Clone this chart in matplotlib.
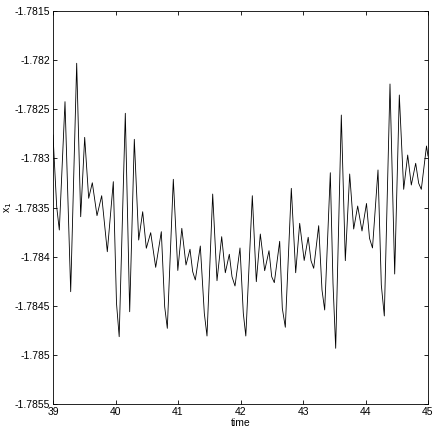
import matplotlib
matplotlib.use("Agg")
import matplotlib.pyplot as plt
from matplotlib import font_manager

time = [39.000, 39.059, 39.101, 39.192, 39.283, 39.379, 39.443, 39.507, 39.571, 39.629,
        39.704, 39.779, 39.869, 39.965, 40.016, 40.059, 40.157, 40.227, 40.301, 40.371,
        40.435, 40.493, 40.563, 40.643, 40.733, 40.787, 40.829, 40.925, 40.997, 41.061,
        41.128, 41.192, 41.235, 41.277, 41.357, 41.421, 41.464, 41.555, 41.624, 41.699,
        41.757, 41.821, 41.864, 41.912, 41.992, 42.045, 42.085, 42.189, 42.253, 42.317,
        42.387, 42.456, 42.499, 42.541, 42.627, 42.669, 42.717, 42.813, 42.883, 42.947,
        43.019, 43.083, 43.128, 43.171, 43.251, 43.304, 43.347, 43.437, 43.480, 43.523,
        43.613, 43.677, 43.747, 43.811, 43.875, 43.944, 44.016, 44.064, 44.112, 44.200,
        44.253, 44.301, 44.392, 44.467, 44.541, 44.611, 44.675, 44.733, 44.803, 44.851,
        44.893, 44.976, 45.000]
x1 = [-1.782762, -1.783492, -1.783729, -1.782423, -1.784357, -1.782032, -1.783594, -1.782786,
      -1.783406, -1.783248, -1.783583, -1.783380, -1.783950, -1.783237, -1.784475, -1.784815,
      -1.782541, -1.784561, -1.782806, -1.783831, -1.783543, -1.783915, -1.783756, -1.784109,
      -1.783746, -1.784510, -1.784730, -1.783213, -1.784141, -1.783712, -1.784085, -1.783925,
      -1.784153, -1.784238, -1.783892, -1.784577, -1.784808, -1.783363, -1.784245, -1.783797,
      -1.784164, -1.783976, -1.784204, -1.784299, -1.783912, -1.784577, -1.784808, -1.783380,
      -1.784255, -1.783770, -1.784143, -1.783940, -1.784204, -1.784265, -1.783844, -1.784526,
      -1.784719, -1.783305, -1.784164, -1.783661, -1.784039, -1.783803, -1.784041, -1.784119,
      -1.783685, -1.784340, -1.784543, -1.783146, -1.784272, -1.784933, -1.782559, -1.784041,
      -1.783159, -1.783719, -1.783485, -1.783739, -1.783459, -1.783813, -1.783912, -1.783118,
      -1.784289, -1.784604, -1.782243, -1.784177, -1.782355, -1.783315, -1.782966, -1.783271,
      -1.783050, -1.783254, -1.783315, -1.782874, -1.782976]

xticks = [39, 40, 41, 42, 43, 44, 45]
yticks = [-1.7855, -1.785, -1.7845, -1.784, -1.7835, -1.783, -1.7825, -1.782, -1.7815]
ytick_labels = ["-1.7855", "-1.785", "-1.7845", "-1.784", "-1.7835", "-1.783", "-1.7825", "-1.782", "-1.7815"]

names = {f.name for f in font_manager.fontManager.ttflist}
fam = "Liberation Sans Narrow" if "Liberation Sans Narrow" in names else "Liberation Sans"
plt.rcParams["font.family"] = [fam, "DejaVu Sans"]
plt.rcParams["axes.unicode_minus"] = False

fig = plt.figure(figsize=(4.36, 4.36), dpi=100)
ax = fig.add_axes([53/436, 1 - 404/436, 375/436, 393/436])
ax.plot(time, x1, color="black", linewidth=0.6)
ax.set_xlim(39, 45)
ax.set_ylim(-1.7855, -1.7815)
ax.set_xticks(xticks)
ax.set_xticklabels([str(v) for v in xticks])
ax.set_yticks(yticks)
ax.set_yticklabels(ytick_labels)
ax.tick_params(direction="in", length=3, width=0.6, labelsize=7.5, pad=2,
               top=True, right=True, colors="black")
for s in ax.spines.values():
    s.set_linewidth(0.6)
ax.set_xlabel("time", fontsize=7.5, labelpad=1)
ax.set_ylabel("x$_1$", fontsize=7.5, rotation=90, ha="center", va="center")
ax.yaxis.set_label_coords(-0.12, 0.5)
fig.savefig("out.png", dpi=100)
